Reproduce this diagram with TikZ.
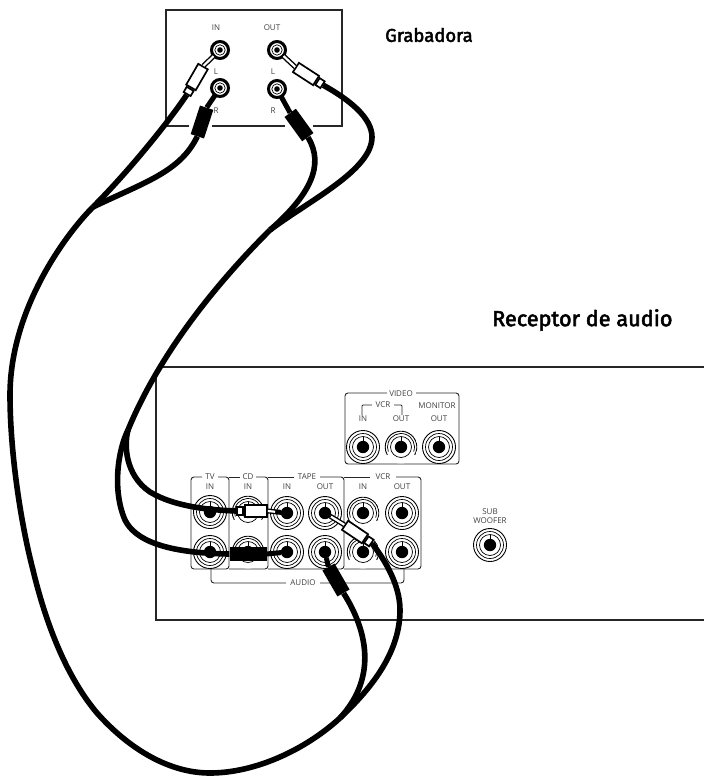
\documentclass[tikz,border=0pt]{standalone}
\usepackage{fontspec}
\setmainfont{Open Sans}
\newfontfamily\titlefont[FakeBold=2.5]{Fira Sans}
\usepackage{tikz}
\usetikzlibrary{positioning,arrows.meta,fit,backgrounds}

\begin{document}
\begin{tikzpicture}[
  x=1pt, y=-1pt,
  every node/.style={font=\fontsize{8}{9}\selectfont, text=black!75, inner sep=0pt},
  title/.style={font=\titlefont\fontsize{18.5}{20}\selectfont, text=black, anchor=west},
  panel/.style={draw=black!85, line width=0.9pt, rounded corners=3pt},
  unitbox/.style={draw=black!85, line width=1.5pt},
  jack/.style={circle, draw=black, line width=0.9pt, fill=white, minimum size=33pt,
    path picture={
      \draw[black, line width=0.7pt] (path picture bounding box.center) circle (13.5pt);
      \draw[black, line width=0.7pt] (path picture bounding box.center) circle (10.5pt);
      \draw[black, line width=0.8pt] (path picture bounding box.center) -- ++(0,10.5pt);
      \fill[black] (path picture bounding box.center) circle (6.2pt);
    }},
  openjack/.style={circle, draw=none, fill=white, minimum size=33pt,
    path picture={
      \draw[black, line width=0.9pt] (path picture bounding box.center) ++(-30:15.8pt) arc[start angle=-30, end angle=210, radius=15.8pt];
      \draw[black, line width=0.7pt] (path picture bounding box.center) ++(-20:13.5pt) arc[start angle=-20, end angle=200, radius=13.5pt];
      \draw[black, line width=0.7pt] (path picture bounding box.center) circle (10.5pt);
      \draw[black, line width=0.8pt] (path picture bounding box.center) -- ++(0,10.5pt);
      \fill[black] (path picture bounding box.center) circle (6.2pt);
    }},
  smalljack/.style={circle, draw=black, line width=3pt, fill=white, minimum size=17pt,
    path picture={
      \draw[black, line width=0.7pt] (path picture bounding box.center) circle (5.2pt);
      \fill[black] (path picture bounding box.center) circle (2.8pt);
    }},
  cable/.style={line width=5.6pt},
  tipline/.style={line width=5pt, black},
  tipwhite/.style={line width=2.2pt, white},
  whiteplug/.style={rectangle, draw=black, line width=1.7pt, fill=white, minimum width=24pt, minimum height=11pt},
  whitecollar/.style={rectangle, draw=black, line width=1.7pt, fill=white, minimum width=6pt, minimum height=8pt, anchor=east},
  blackplug/.style={rectangle, fill=black, minimum width=30pt, minimum height=14pt},
]
\useasboundingbox (0,0) rectangle (704,776);
% recorder
\draw[unitbox] (189,126) -- (166,126) -- (166,10) -- (342,10) -- (342,126) -- (313,126);
\draw[unitbox] (285,126) -- (212,126);
\node[title] (grab) at (385,35) {Grabadora};
\node (recinlab) at (216,28) {IN};
\node (recoutlab) at (272,28) {OUT};
\node (recll) at (216,72) {L};
\node (reclr) at (273,72) {L};
\node (recrl) at (216,111) {R};
\node (recrr) at (273,111) {R};
\node[smalljack] (recinl) at (220,50) {};
\node[smalljack] (recinr) at (220,88) {};
\node[smalljack] (recoutl) at (277,50) {};
\node[smalljack] (recoutr) at (277,89) {};
% receiver
\node[title, font=\titlefont\fontsize{21.7}{23}\selectfont] (recv) at (492,320) {Receptor de audio};
\draw[unitbox] (704,367) -- (162,367);
\draw[unitbox] (156,373) -- (156,620) -- (704,620);
% video panel
\draw[panel] (387,393) -- (345,393) -- (345,464) -- (459,464) -- (459,393) -- (416,393);
\node (videolab) at (401,394) {VIDEO};
\draw[panel, rounded corners=1pt] (362,415) -- (362,405) -- (372,405);
\draw[panel, rounded corners=1pt] (394,405) -- (402,405) -- (402,415);
\node (vcrlab) at (383,405) {VCR};
\node (monlab) at (437,406) {MONITOR};
\node (vinlab) at (363,419) {IN};
\node (voutlab) at (401,419) {OUT};
\node (moutlab) at (439,419) {OUT};
\node[jack] (vin) at (363,447) {};
\node[openjack] (vout) at (401,447) {};
\node[jack] (mout) at (439,447) {};
% audio panels
\draw[panel] (202,477) -- (191,477) -- (191,569) -- (229,569) -- (229,477) -- (218,477);
\draw[panel] (229,477) -- (240,477);
\draw[panel] (256,477) -- (268,477) -- (268,569) -- (229,569);
\draw[panel] (268,477) -- (294,477);
\draw[panel] (320,477) -- (344,477) -- (344,569) -- (268,569);
\draw[panel] (344,477) -- (370,477);
\draw[panel] (396,477) -- (421,477) -- (421,569) -- (344,569);
\draw[panel] (211,569) -- (211,583) -- (286,583);
\draw[panel] (320,583) -- (404,583) -- (404,569);
\node (tvlab) at (210,477) {TV};
\node (cdlab) at (248,477) {CD};
\node (tapelab) at (307,477) {TAPE};
\node (vcrlabb) at (383,477) {VCR};
\node (audiolab) at (303,582.5) {AUDIO};
\foreach \name/\lab/\x in {tv/IN/210, cd/IN/248, ti/IN/287, to/OUT/325, vi/IN/363, vo/OUT/402}
  \node (\name lab) at (\x,487) {\lab};
\node[jack] (tvin) at (210,512) {};
\node[jack] (tvr) at (210,552) {};
\node[openjack] (cdin) at (248,512) {};
\node[openjack] (cdr) at (248,552) {};
\node[jack] (tapein) at (287,513) {};
\node[jack] (taper) at (287,552) {};
\node[jack] (tapeout) at (325,513) {};
\node[jack] (tapeoutr) at (325,552) {};
\node[openjack] (vcrin) at (363,513) {};
\node[openjack] (vcrinr) at (363,552) {};
\node[jack] (vcrout) at (402,513) {};
\node[jack] (vcroutr) at (402,552) {};
\node (sublab) at (490,512) {SUB};
\node (wooflab) at (490,521) {WOOFER};
\node[jack] (sub) at (490,545) {};
% plugs
\node[whiteplug, rotate=60] (plina) at (197,77) {};
\node[whitecollar, rotate=60] (plinb) at (plina.west) {};
\node[blackplug, rotate=72] (plinr) at (202,122) {};
\node[whiteplug, rotate=147] (plouta) at (306,74) {};
\node[whitecollar, rotate=147] (ploutb) at (plouta.west) {};
\node[blackplug, rotate=126] (ploutr) at (299,125) {};
\node[whiteplug, minimum width=22pt, minimum height=12pt] (pltapea) at (256,511) {};
\node[whitecollar] (pltapeb) at (pltapea.west) {};
\node[blackplug, minimum width=37pt] (pltaper) at (248,554) {};
\node[whiteplug, rotate=146] (plouta2) at (355,532) {};
\node[whitecollar, rotate=146] (ploutb2) at (plouta2.west) {};
\node[blackplug, rotate=120] (ploutr2) at (336,580) {};
% where the cables meet
\coordinate (joinrec) at (93,207);
\coordinate (joinrecb) at (270,230);
\coordinate (joinlow) at (128,430);
\coordinate (joinbot) at (340,718);
% plug tips
\foreach \jk/\pl/\sh in {recinl/plina/8pt, recinr/plinr/8pt, recoutl/plouta/8pt, recoutr/ploutr/8pt, tapein/pltapea/6pt, taper/pltaper/6pt, tapeout/plouta2/6pt, tapeoutr/ploutr2/6pt} {
  \draw[tipline, shorten <=\sh] (\jk.center) -- (\pl.east);
}
\draw[tipwhite, shorten <=9pt] (recinl.center) -- (plina.east);
\draw[tipwhite, shorten <=9pt] (recoutl.center) -- (plouta.east);
\draw[tipwhite, shorten <=12pt] (tapein.center) -- (pltapea.east);
\draw[tipwhite, shorten <=7pt] (tapeout.center) -- (plouta2.east);
% cables, recorder side
\draw[cable] (plinb.west) .. controls (170,120) and (130,170) .. (joinrec);
\draw[cable] (plinr.west) .. controls (180,172) and (145,182) .. (joinrec);
\draw[cable] (ploutb.west) .. controls (350,100) and (372,118) .. (372,137)
  .. controls (372,170) and (310,200) .. (joinrecb);
\draw[cable] (ploutr.west) .. controls (325,165) and (310,195) .. (joinrecb);
% cables, long runs
\draw[cable] (joinrec) .. controls (65,235) and (10,310) .. (10,395)
  .. controls (10,450) and (20,520) .. (33,570)
  .. controls (45,620) and (65,675) .. (97,713)
  .. controls (130,750) and (170,773) .. (210,773)
  .. controls (255,773) and (305,750) .. (joinbot);
\draw[cable] (joinrecb) .. controls (235,265) and (165,340) .. (joinlow);
% cables, receiver side
\draw[cable] (joinlow) .. controls (124,445) and (125,475) .. (150,492)
  .. controls (175,507) and (210,510) .. (pltapeb.west);
\draw[cable] (joinlow) .. controls (118,450) and (112,490) .. (125,520)
  .. controls (135,540) and (165,553) .. (pltaper.west);
\draw[cable] (ploutb2.west) .. controls (385,560) and (400,585) .. (400,610)
  .. controls (400,650) and (375,685) .. (joinbot);
\draw[cable] (ploutr2.west) .. controls (370,635) and (375,680) .. (joinbot);
\end{tikzpicture}
\end{document}
